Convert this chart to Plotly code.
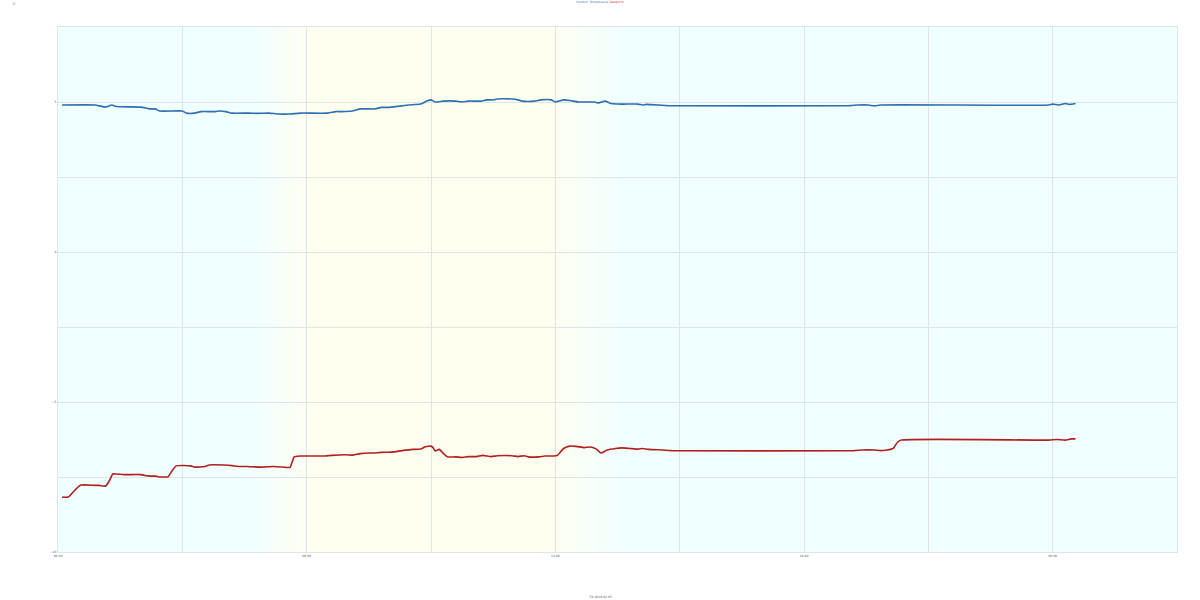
import pandas as pd
import plotly.graph_objects as go

DAY = "2019-01-05"

# Outdoor temperature (hours since midnight, °C)
temp_hours = [0.1, 0.9, 1.0, 1.15, 1.3, 1.4, 2.0, 2.2, 2.35, 2.45, 3.0, 3.1, 3.3, 3.45, 3.8, 3.9, 4.05, 4.2,
              4.6, 4.8, 5.1, 5.3, 5.6, 5.85, 6.5, 6.7, 6.85, 7.1, 7.3, 7.65, 7.8, 8.0, 8.3, 8.45, 8.75, 8.9,
              9.0, 9.1, 9.3, 9.6, 9.75, 9.9, 10.2, 10.35, 10.5, 10.6, 10.95, 11.1, 11.2, 11.5, 11.65, 11.9,
              12.0, 12.2, 12.35, 12.55, 12.7, 12.95, 13.05, 13.2, 13.35, 13.6, 14.0, 14.1, 14.2, 14.5, 14.7,
              19.1, 19.3, 19.55, 19.7, 19.85, 23.9, 24.0, 24.15, 24.3, 24.4, 24.55]
temp_values = [4.9, 4.9, 4.87, 4.83, 4.9, 4.85, 4.83, 4.77, 4.77, 4.7, 4.7, 4.63, 4.63, 4.68, 4.68, 4.7, 4.68, 4.63,
               4.63, 4.62, 4.63, 4.6, 4.6, 4.63, 4.63, 4.68, 4.68, 4.7, 4.77, 4.77, 4.82, 4.82, 4.87, 4.9, 4.93, 5.03,
               5.07, 5.0, 5.03, 5.03, 5.0, 5.03, 5.03, 5.07, 5.07, 5.1, 5.1, 5.07, 5.03, 5.03, 5.07, 5.07,
               5.0, 5.07, 5.05, 5.0, 5.0, 5.0, 4.97, 5.03, 4.95, 4.93, 4.93, 4.9, 4.92, 4.9, 4.88,
               4.88, 4.9, 4.9, 4.87, 4.9, 4.9, 4.93, 4.9, 4.95, 4.92, 4.95]

# Dew point (hours since midnight, °C)
dew_hours = [0.1, 0.25, 0.4, 0.55, 0.9, 1.0, 1.08, 1.15, 1.25, 1.32, 1.4, 1.6, 2.0, 2.1, 2.25, 2.35, 2.45, 2.6,
             2.65, 2.75, 2.85, 3.2, 3.3, 3.55, 3.65, 4.0, 4.2, 4.35, 4.55, 4.9, 5.2, 5.5, 5.6, 5.65, 5.7, 5.85,
             6.2, 6.45, 6.6, 6.95, 7.1, 7.3, 7.5, 7.6, 7.8, 8.05, 8.3, 8.55, 8.75, 8.85, 9.0, 9.05, 9.1, 9.2,
             9.3, 9.4, 9.6, 9.75, 9.9, 10.1, 10.25, 10.45, 10.6, 10.95, 11.1, 11.25, 11.35, 11.6, 11.75, 11.95,
             12.05, 12.2, 12.35, 12.5, 12.7, 12.85, 13.0, 13.1, 13.25, 13.45, 13.6, 13.8, 14.0, 14.1, 14.25,
             14.6, 14.8, 19.2, 19.4, 19.7, 19.85, 20.0, 20.15, 20.25, 20.35, 23.9, 24.1, 24.3, 24.45, 24.55]
dew_values = [-8.17, -8.17, -7.95, -7.77, -7.78, -7.78, -7.8, -7.8, -7.6, -7.4, -7.4, -7.42, -7.42, -7.45,
              -7.47, -7.47, -7.5, -7.5, -7.5, -7.3, -7.13, -7.13, -7.17, -7.15, -7.1, -7.1, -7.12, -7.15,
              -7.15, -7.17, -7.15, -7.18, -7.18, -7.0, -6.83, -6.8, -6.8, -6.8, -6.78, -6.76, -6.77, -6.72,
              -6.7, -6.7, -6.68, -6.67, -6.62, -6.58, -6.57, -6.5, -6.47, -6.52, -6.63, -6.58, -6.72, -6.83,
              -6.83, -6.85, -6.82, -6.82, -6.78, -6.82, -6.79, -6.79, -6.82, -6.79, -6.83, -6.83, -6.8, -6.8,
              -6.78, -6.55, -6.47, -6.48, -6.52, -6.5, -6.58, -6.7, -6.6, -6.55, -6.53, -6.55, -6.57, -6.55,
              -6.58, -6.6, -6.62, -6.62, -6.6, -6.6, -6.62, -6.6, -6.55, -6.35, -6.27, -6.27, -6.25, -6.27,
              -6.23, -6.23]

# Daylight (hours): twilight start, sunrise, sunset, twilight end
sun_hours = [4.75, 6.0, 12.0, 13.6]
x_range_hours = [0, 27]
y_range = [-10, 7.5]

base = pd.Timestamp(DAY)
def to_t(hs):
    return [base + pd.Timedelta(hours=h) for h in hs]

NIGHT = (240, 255, 255)
DAYC = (255, 255, 240)

def mix(a, b, f):
    return "rgb(%d,%d,%d)" % tuple(round(a[i] + (b[i] - a[i]) * f) for i in range(3))

shapes = []
def add_band(h0, h1, color):
    t0, t1 = to_t([h0, h1])
    shapes.append(dict(type="rect", xref="x", yref="paper", x0=t0, x1=t1, y0=0, y1=1,
                       fillcolor=color, line=dict(width=0), layer="below"))

N = 40
tw0, rise, sset, tw1 = sun_hours
for i in range(N):
    a = tw0 + (rise - tw0) * i / N
    b = tw0 + (rise - tw0) * (i + 1) / N
    add_band(a, b, mix(NIGHT, DAYC, (i + 0.5) / N))
add_band(rise, sset, mix(NIGHT, DAYC, 1))
for i in range(N):
    a = sset + (tw1 - sset) * i / N
    b = sset + (tw1 - sset) * (i + 1) / N
    add_band(a, b, mix(DAYC, NIGHT, (i + 0.5) / N))

fig = go.Figure()
fig.add_trace(go.Scatter(x=to_t(temp_hours), y=temp_values, mode="lines",
                         line=dict(color="#2e6fb0", width=1.6, shape="spline", smoothing=0.5),
                         name="Outdoor Temperature"))
fig.add_trace(go.Scatter(x=to_t(dew_hours), y=dew_values, mode="lines",
                         line=dict(color="#b02020", width=1.6, shape="spline", smoothing=0.5),
                         name="Dewpoint"))

grid = "#dfe4e8"
fig.update_layout(
    width=1200, height=600,
    margin=dict(l=58, r=23, t=27, b=48, autoexpand=False),
    paper_bgcolor="white", plot_bgcolor="rgb(240,255,255)",
    showlegend=False,
    shapes=shapes,
    font=dict(family="DejaVu Sans", size=3, color="#555"),
    title=dict(text="<span style='color:#4a7fc0'>Outdoor Temperature</span> <span style='color:#d04040'>Dewpoint</span>",
               x=0.5, xanchor="center", y=0.999, yanchor="top", font=dict(size=3)),
)
fig.update_xaxes(
    type="date", range=to_t(x_range_hours), tickformat="%H:%M",
    tick0=base, dtick=6 * 3600 * 1000, showgrid=True, gridcolor=grid,
    minor=dict(dtick=3 * 3600 * 1000, showgrid=True, gridcolor=grid),
    showline=True, mirror=True, linecolor=grid, zeroline=False,
    ticks="", tickfont=dict(size=3), automargin=False,
)
fig.update_yaxes(
    range=y_range, dtick=5, tick0=0, showgrid=True, gridcolor=grid,
    minor=dict(dtick=2.5, showgrid=True, gridcolor=grid),
    showline=True, mirror=True, linecolor=grid, zeroline=False,
    ticks="", tickfont=dict(size=3), automargin=False,
)
fig.add_annotation(text="Tid 2019-01-05", xref="paper", yref="paper", x=0.484, y=-0.0857,
                   yanchor="middle", showarrow=False, font=dict(size=3))
fig.add_annotation(text="°C", xref="paper", yref="paper", x=-0.043, y=1.051, yanchor="top",
                   showarrow=False, font=dict(size=3))

fig.write_html("out.html", config={"displayModeBar": False},
               post_script="document.body.style.margin='0';")
